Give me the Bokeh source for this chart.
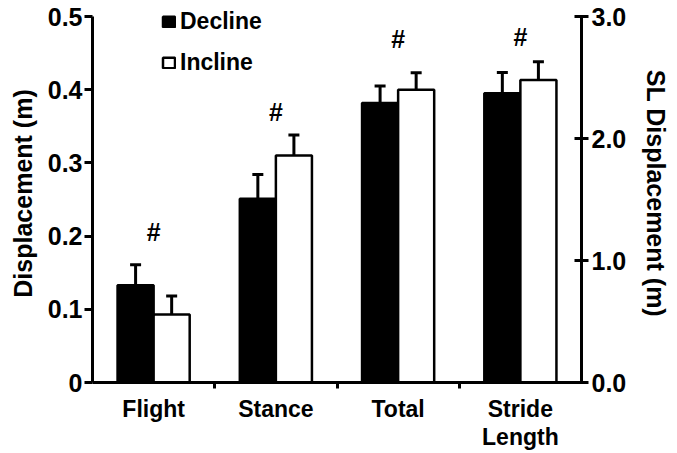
import numpy as np
from bokeh.plotting import figure
from bokeh.models import (Range1d, LinearAxis, FixedTicker, NumeralTickFormatter,
                          ColumnDataSource, Whisker, TeeHead, Legend, LegendItem)
from bokeh.core.properties import value
from bokeh.embed import file_html
from bokeh.resources import INLINE

# ---- data ----
categories = ["Flight", "Stance", "Total", "Stride\nLength"]
decline = [0.133, 0.251, 0.382, 2.37]
decline_err = [0.028, 0.033, 0.023, 0.17]
incline = [0.093, 0.310, 0.400, 2.48]
incline_err = [0.025, 0.028, 0.023, 0.15]
axis_side = ["left", "left", "left", "right"]
hash_level = [0.205, 0.369, 0.469, 2.83]

left_ticks = [0, 0.1, 0.2, 0.3, 0.4, 0.5]
right_ticks = [0, 1, 2, 3]
left_max = 0.5
right_max = 3.0

FONT = "Liberation Sans"
BW = 0.295

# frame geometry (pixels): axis spans 366 px, frame a bit taller so the legend isn't clipped
AXIS_PX, FRAME_PX = 366, 378
stretch = FRAME_PX / AXIS_PX

p = figure(width=677, height=453, x_range=Range1d(0, 4),
           y_range=Range1d(0, left_max * stretch),
           output_backend="svg", toolbar_location=None,
           min_border_left=92, min_border_right=96, min_border_top=453 - 71 - FRAME_PX,
           min_border_bottom=71)
p.extra_y_ranges = {"sl": Range1d(0, right_max * stretch)}
p.outline_line_color = None
p.grid.visible = False
p.background_fill_color = "white"
p.border_fill_color = "white"

centers = np.arange(len(categories)) + 0.5

renderers = {}
for side, rname in (("left", "default"), ("right", "sl")):
    idx = [i for i, s in enumerate(axis_side) if s == side]
    for name, vals, errs, fill, dx in (("Decline", decline, decline_err, "black", -BW / 2),
                                        ("Incline", incline, incline_err, "white", BW / 2)):
        src = ColumnDataSource(dict(
            x=[centers[i] + dx for i in idx],
            top=[vals[i] for i in idx],
            upper=[vals[i] + errs[i] for i in idx],
        ))
        r = p.vbar(x="x", top="top", bottom=0, width=BW, source=src,
                   fill_color=fill, line_color="black", line_width=2.5,
                   y_range_name=rname)
        renderers.setdefault(name, r)
        w = Whisker(source=src, base="x", lower="top", upper="upper", dimension="height",
                    lower_head=None, upper_head=TeeHead(size=11, line_width=3, line_color="black"),
                    line_width=3, line_color="black", y_range_name=rname, level="overlay")
        p.add_layout(w)
    hsrc = ColumnDataSource(dict(x=[centers[i] for i in idx], y=[hash_level[i] for i in idx],
                                 t=["#"] * len(idx)))
    p.text(x="x", y="y", text="t", source=hsrc, text_align="center", text_baseline="middle",
           text_font=value(FONT), text_font_style="bold", text_font_size="25px",
           text_color="black", y_range_name=rname)

# left axis
ya = p.yaxis[0]
ya.ticker = FixedTicker(ticks=left_ticks)
ya.formatter = NumeralTickFormatter(format="0.0")
ya.major_label_overrides = {0: "0"}
ya.axis_label = "Displacement (m)"
ya.bounds = (0, left_max)

# right axis
ra = LinearAxis(y_range_name="sl", ticker=FixedTicker(ticks=right_ticks),
                formatter=NumeralTickFormatter(format="0.0"), axis_label="SL Displacement (m)",
                bounds=(0, right_max))
p.add_layout(ra, "right")

for ax in (ya, ra):
    ax.axis_line_width = 3
    ax.axis_line_color = "black"
    ax.major_tick_line_width = 3
    ax.major_tick_line_color = "black"
    ax.minor_tick_line_color = None
    ax.major_label_text_font = FONT
    ax.major_label_text_font_style = "bold"
    ax.major_label_text_font_size = "25px"
    ax.major_label_text_color = "black"
    ax.axis_label_text_font = FONT
    ax.axis_label_text_font_style = "bold"
    ax.axis_label_text_font_size = "25px"
    ax.axis_label_text_color = "black"
ya.major_tick_out = 8
ya.major_tick_in = 0
ya.major_label_standoff = 2
ya.axis_label_standoff = 8
ra.major_tick_out = 7
ra.major_tick_in = 7
ra.major_label_standoff = 3
ra.axis_label_standoff = 13

# x axis
xa = p.xaxis[0]
xa.ticker = FixedTicker(ticks=list(centers), minor_ticks=[1, 2, 3])
xa.major_label_overrides = {float(c): lab for c, lab in zip(centers, categories)}
xa.major_tick_out = 0
xa.major_tick_in = 0
xa.minor_tick_out = 6
xa.minor_tick_in = 0
xa.minor_tick_line_width = 3
xa.minor_tick_line_color = "black"
xa.axis_line_width = 3
xa.axis_line_color = "black"
xa.major_label_text_font = FONT
xa.major_label_text_font_style = "bold"
xa.major_label_text_font_size = "23px"
xa.major_label_text_line_height = 1.1
xa.major_label_text_color = "black"
xa.major_label_standoff = 7

legend = Legend(items=[LegendItem(label="Decline", renderers=[renderers["Decline"]]),
                       LegendItem(label="Incline", renderers=[renderers["Incline"]])],
                location=(69, 306), padding=0, margin=0, spacing=14,
                glyph_width=15, glyph_height=13, label_height=24, label_standoff=4,
                label_text_font=FONT, label_text_font_style="bold", label_text_font_size="23px",
                label_text_color="black",
                background_fill_alpha=0, border_line_color=None)
p.add_layout(legend, "center")

open("out.html", "w").write(file_html(p, INLINE))
